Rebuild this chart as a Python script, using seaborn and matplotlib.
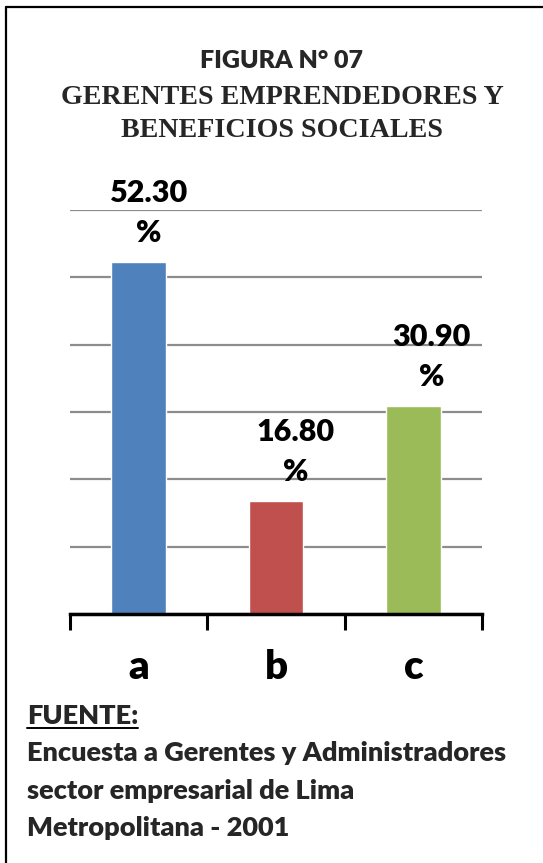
import matplotlib
matplotlib.use("Agg")
import matplotlib.pyplot as plt
from matplotlib.lines import Line2D
import seaborn as sns
import pandas as pd

categories = ["a", "b", "c"]
values = [52.30, 16.80, 30.90]
value_labels = ["52.30", "16.80", "30.90"]
colors = ["#4F81BD", "#C0504D", "#9BBB59"]
title_lines = ["FIGURA N° 07", "GERENTES EMPRENDEDORES Y", "BENEFICIOS SOCIALES"]
source_title = "FUENTE:"
source_lines = ["Encuesta a Gerentes y Administradores",
                "sector empresarial de Lima",
                "Metropolitana - 2001"]

df = pd.DataFrame({"cat": categories, "val": values})

sns.set_theme(style="white")
plt.rcParams["font.family"] = ["Lato", "DejaVu Sans"]

W, H = 543, 863
fig = plt.figure(figsize=(W / 100, H / 100), dpi=100)
fig.patch.set_facecolor("white")
ax = fig.add_axes([70 / W, 1 - 614 / H, (482 - 70) / W, (614 - 210) / H])

sns.barplot(data=df, x="cat", y="val", hue="cat", palette=colors,
            width=0.4, legend=False, ax=ax, saturation=1, zorder=3)

ax.set_xlim(-0.5, 2.5)
ax.set_ylim(0, 60)
ax.set_yticks([0, 10, 20, 30, 40, 50, 60])
ax.yaxis.grid(True, color="#8c8c8c", linewidth=1.6, zorder=0)
ax.set_axisbelow(True)
ax.tick_params(axis="y", left=False, labelleft=False)
ax.set_xticks([-0.5, 0.5, 1.5, 2.5])
ax.set_xticklabels([])
ax.tick_params(axis="x", direction="out", length=11.5, width=2.2,
               color="black", bottom=True)
for s in ["left", "right", "top"]:
    ax.spines[s].set_visible(False)
ax.spines["bottom"].set_color("black")
ax.spines["bottom"].set_linewidth(2.5)
ax.spines["bottom"].set_zorder(4)
ax.set_xlabel("")
ax.set_ylabel("")

SW = "heavy"
px = 0.72  # points per pixel
label_dx = [10, 20, 18]
for i, (v, lab) in enumerate(zip(values, value_labels)):
    ax.annotate(lab, xy=(i, v), xytext=(label_dx[i] * px, 60 * px),
                textcoords="offset points", ha="center", va="baseline",
                fontsize=22, fontweight=SW, color="black", zorder=5)
    ax.annotate("%", xy=(i, v), xytext=(label_dx[i] * px, 20 * px),
                textcoords="offset points", ha="center", va="baseline",
                fontsize=22, fontweight=SW, color="black", zorder=5)
    ax.annotate(categories[i], xy=(i, 0), xycoords=("data", "axes fraction"),
                xytext=(0, -65 * px), textcoords="offset points",
                ha="center", va="baseline", fontsize=29, fontweight=SW,
                color="black")

# Title
fig.text(282 / W, 1 - 68.5 / H, title_lines[0], ha="center", va="baseline",
         fontsize=18, fontweight=SW, family=["Lato", "DejaVu Sans"])
fig.text(282 / W, 1 - 104 / H, title_lines[1], ha="center", va="baseline",
         fontsize=20.2, fontweight="bold", family=["Liberation Serif", "DejaVu Serif"])
fig.text(282 / W, 1 - 137 / H, title_lines[2], ha="center", va="baseline",
         fontsize=20.2, fontweight="bold", family=["Liberation Serif", "DejaVu Serif"])

# Source
src = fig.text(27 / W, 1 - 724 / H, source_title, ha="left", va="baseline",
               fontsize=19.5, fontweight=SW)
fig.canvas.draw()
bb = src.get_window_extent(renderer=fig.canvas.get_renderer())
fig.add_artist(Line2D([bb.x0 / W, bb.x1 / W], [1 - 727.5 / H, 1 - 727.5 / H],
                      color="black", linewidth=1.4, transform=fig.transFigure))
for k, line in enumerate(source_lines):
    fig.text(27 / W, 1 - (761 + 37.5 * k) / H, line, ha="left", va="baseline",
             fontsize=19.5, fontweight=SW)

# Frame (top and left border)
fig.add_artist(Line2D([6 / W, 1.0], [1 - 7 / H, 1 - 7 / H], color="black",
                      linewidth=1.6, transform=fig.transFigure))
fig.add_artist(Line2D([6 / W, 6 / W], [1 - 7 / H, 0.0], color="black",
                      linewidth=1.6, transform=fig.transFigure))

fig.savefig("out.png", dpi=100, facecolor="white")
